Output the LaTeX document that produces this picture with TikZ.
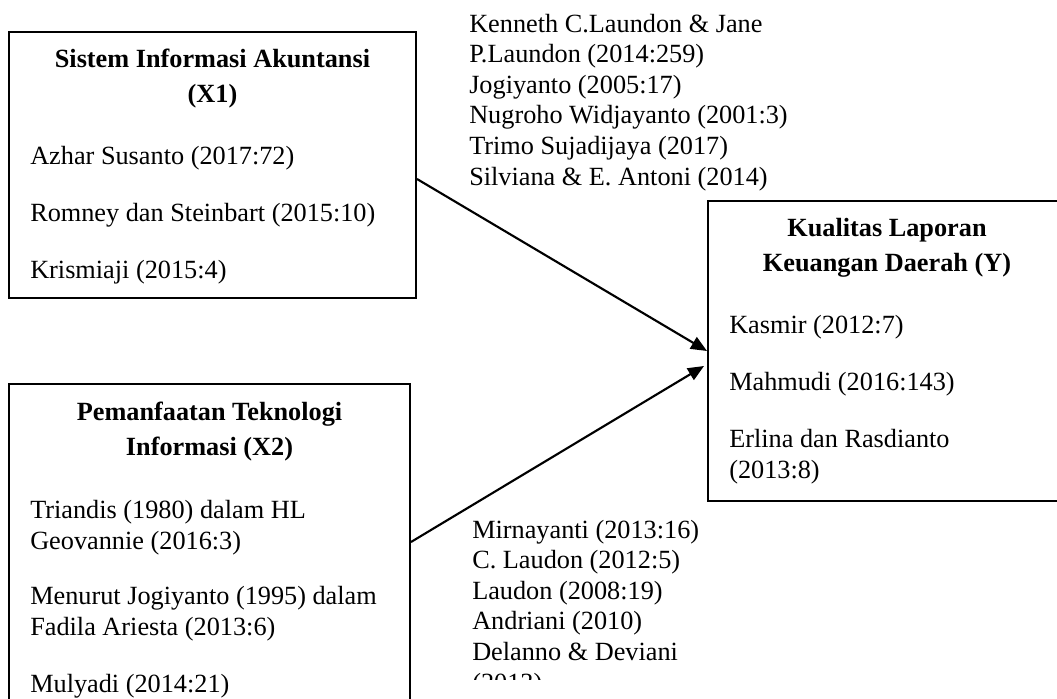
\documentclass[tikz,border=0pt]{standalone}
\usepackage{fontspec}
\setmainfont{Liberation Serif}
\usetikzlibrary{arrows.meta}
\begin{document}
\begin{tikzpicture}[x=0.75pt,y=-0.75pt,
  box/.style={draw, line width=1.5pt, inner sep=0pt},
  body/.style={anchor=base west, align=left, inner sep=0pt, font=\fontsize{19.7}{22.95}\selectfont},
  ttl/.style={anchor=base, align=center, inner sep=0pt, font=\fontsize{19.7}{26.25}\selectfont\bfseries},
  arr/.style={line width=1.6pt, -{Triangle[length=12pt,width=10pt]}}]
\useasboundingbox (0,0) rectangle (1057,699);
% boxes
\node[box, minimum width=305.25pt, minimum height=199.5pt] (b1) at (212.5,165) {};
\node[box, minimum width=300.75pt, minimum height=252pt] (b2) at (209.5,552) {};
\node[box, minimum width=268.5pt, minimum height=225pt] (by) at (887,351) {};
% box 1 text (anchor = baseline of the last line)
\node[ttl] (t1) at (212.5,103) {Sistem Informasi Akuntansi\\(X1)};
\node[body] (l1) at (30,278) {Azhar Susanto (2017:72)\\[19.8pt]Romney dan Steinbart (2015:10)\\[19.8pt]Krismiaji (2015:4)};
% box 2 text
\node[ttl] (t2) at (209.5,455) {Pemanfaatan Teknologi\\Informasi (X2)};
\node[body] (l2) at (30,692) {Triandis (1980) dalam HL\\Geovannie (2016:3)\\[18.5pt]Menurut Jogiyanto (1995) dalam\\Fadila Ariesta (2013:6)\\[19.5pt]Mulyadi (2014:21)};
% box Y text
\node[ttl] (ty) at (887,271) {Kualitas Laporan\\Keuangan Daerah (Y)};
\node[body] (ly) at (729,478) {Kasmir (2012:7)\\[20pt]Mahmudi (2016:143)\\[19.8pt]Erlina dan Rasdianto\\(2013:8)};
% reference lists
\node[body] (r1) at (469,185) {Kenneth C.Laundon \& Jane\\P.Laundon (2014:259)\\Jogiyanto (2005:17)\\Nugroho Widjayanto (2001:3)\\Trimo Sujadijaya (2017)\\Silviana \& E. Antoni (2014)};
\begin{scope}
\clip (440,500) rectangle (760,679);
\node[body] (r2) at (472,691) {Mirnayanti (2013:16)\\C. Laudon (2012:5)\\Laudon (2008:19)\\Andriani (2010)\\Delanno \& Deviani\\(2013)};
\end{scope}
% connectors
\draw[arr] ([yshift=-10.5pt]b1.east) -- (by.west);
\draw[arr] ([yshift=7.5pt]b2.east) -- ([xshift=-2.25pt,yshift=-11.25pt]by.west);
\end{tikzpicture}
\end{document}
